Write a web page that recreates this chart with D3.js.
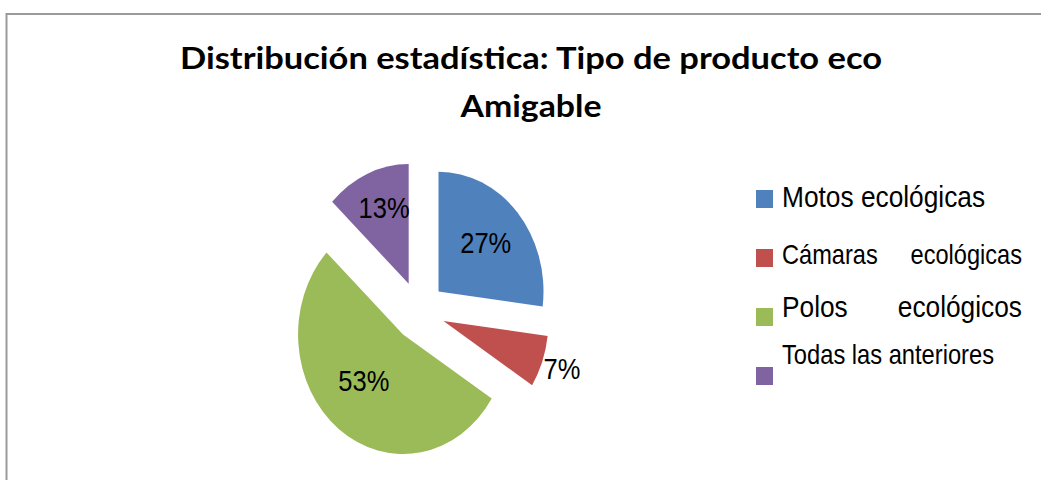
<!DOCTYPE html>
<html>
<head>
<meta charset="utf-8">
<script src="https://cdn.jsdelivr.net/npm/d3@7"></script>
<style>
  body { margin: 0; background: #fff; }
  svg { display: block; }
</style>
</head>
<body>
<div class="chart-wrapper"></div>
<script>
const categories = ['Motos ecológicas', 'Cámaras ecológicas', 'Polos ecológicos', 'Todas las anteriores'];
const values = [27, 7, 53, 13];
const valueLabels = ['27%', '7%', '53%', '13%'];
const colors = ['#4F81BD', '#C0504D', '#9BBB59', '#8064A2'];
const titleLines = ['Distribución estadística: Tipo de producto eco', 'Amigable'];

const width = 1041, height = 480;

// picture is slightly stretched vertically
const ky = 1.14;
const cx = 419, cy = 311, r = 105, explode = 26;

const svg = d3.select('.chart-wrapper').append('svg')
  .attr('width', width)
  .attr('height', height);

// frame
svg.append('rect')
  .attr('x', 6.5).attr('y', 14)
  .attr('width', 1200).attr('height', 700)
  .attr('fill', 'none')
  .attr('stroke', '#9a9a9a')
  .attr('stroke-width', 2);

// title
const titleY = [69, 117];
const titleW = [702, 141];
titleLines.forEach((t, i) => {
  svg.append('text')
    .attr('transform', `translate(531,${titleY[i]}) scale(1,${ky})`)
    .attr('text-anchor', 'middle')
    .attr('font-family', 'Lato, "Open Sans", sans-serif')
    .attr('font-weight', 'bold')
    .attr('font-size', 26)
    .attr('fill', '#000')
    .attr('textLength', titleW[i])
    .attr('lengthAdjust', 'spacingAndGlyphs')
    .text(t);
});

const pie = d3.pie().sort(null).value(d => d);
const arcs = pie(values);
const arc = d3.arc().innerRadius(0).outerRadius(r);

const pieG = svg.append('g')
  .attr('transform', `translate(${cx},${cy}) scale(1,${ky})`);

pieG.selectAll('path')
  .data(arcs)
  .enter()
  .append('path')
  .attr('d', arc)
  .attr('fill', (d, i) => colors[i])
  .attr('transform', d => {
    const a = (d.startAngle + d.endAngle) / 2;
    return `translate(${explode * Math.sin(a)},${-explode * Math.cos(a)})`;
  });

// labels, inside except the small slice
const labelDist = [63, 126, 57, 70];
const labelTurn = [0, 0, 0.1, 0.05];
svg.append('g').selectAll('text')
  .data(arcs)
  .enter()
  .append('text')
  .attr('transform', (d, i) => {
    const a = (d.startAngle + d.endAngle) / 2;
    const la = a + labelTurn[i];
    const x = cx + explode * Math.sin(a) + labelDist[i] * Math.sin(la);
    const y = cy - (explode * Math.cos(a) + labelDist[i] * Math.cos(la)) * ky;
    return `translate(${x},${y + 9}) scale(1,${ky})`;
  })
  .attr('text-anchor', 'middle')
  .attr('font-family', '"Liberation Sans", Arial, sans-serif')
  .attr('font-size', 25.5)
  .attr('fill', '#000')
  .text((d, i) => valueLabels[i]);

// legend (lines in the original are not all the same size)
const legX = 756, legTextX = 782, legRight = 1022;
const boxTop = [190, 249, 308, 367];
const textBase = [207, 264, 317, 364];
const legFont = [26.3, 23.6, 26.3, 23.7];
const justified = [false, true, true, false];

const leg = svg.append('g');
categories.forEach((c, i) => {
  leg.append('rect')
    .attr('x', legX).attr('y', boxTop[i])
    .attr('width', 17).attr('height', 18)
    .attr('fill', colors[i]);

  const words = c.split(' ');
  const addText = (x, anchor, s) => leg.append('text')
    .attr('transform', `translate(${x},${textBase[i]}) scale(1,${ky})`)
    .attr('text-anchor', anchor)
    .attr('font-family', '"Liberation Sans", Arial, sans-serif')
    .attr('font-size', legFont[i])
    .attr('fill', '#000')
    .text(s);

  if (justified[i]) {
    addText(legTextX, 'start', words[0]);
    addText(legRight, 'end', words.slice(1).join(' '));
  } else {
    addText(legTextX, 'start', c);
  }
});
</script>
</body>
</html>
